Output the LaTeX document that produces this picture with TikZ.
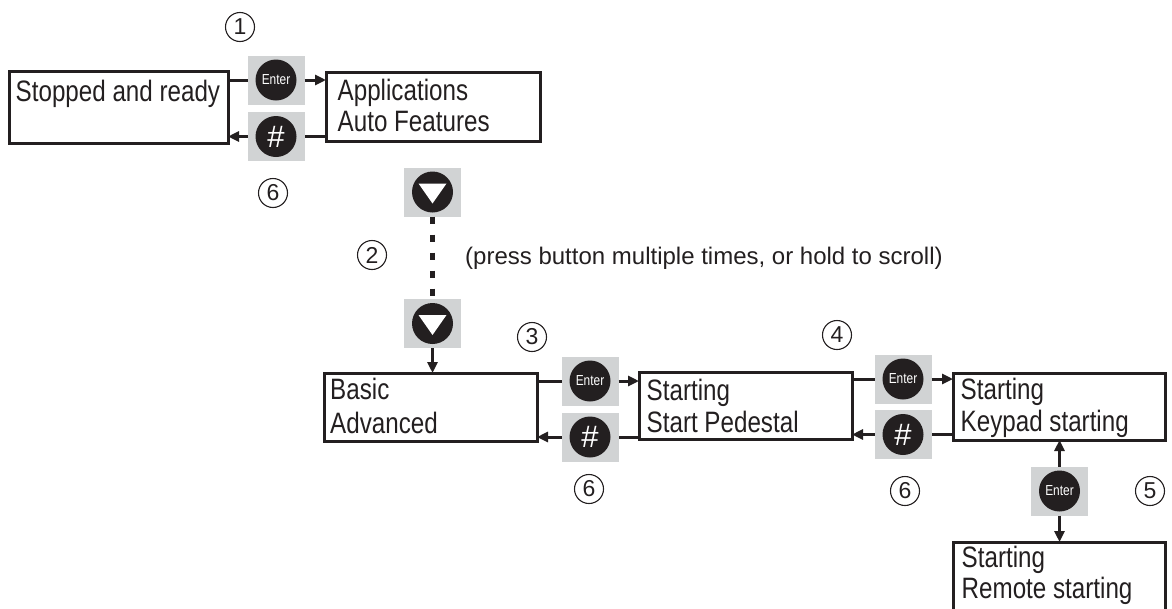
\documentclass[tikz,border=0pt]{standalone}
\usepackage{fontspec}
\setmainfont{Liberation Sans}
\newfontfamily\narrowfont{Liberation Sans}[FakeStretch=0.82]
\usetikzlibrary{arrows.meta}
\definecolor{btngray}{HTML}{D1D3D4}
\definecolor{ink}{HTML}{231F20}
\begin{document}
\begin{tikzpicture}[x=1pt,y=-1pt,
  screen/.style={draw=ink, line width=3pt, inner sep=0pt, outer sep=0pt, anchor=north west},
  btn/.style={fill=btngray, minimum width=57pt, minimum height=49pt, inner sep=0pt, outer sep=0pt},
  knob/.style={circle, fill=ink, minimum size=41pt, inner sep=0pt, text=white},
  entertxt/.style={knob, font=\narrowfont\fontsize{14.5}{14.5}\selectfont},
  hashtxt/.style={knob, font=\fontsize{31}{31}\selectfont},
  num/.style={circle, draw=ink, line width=1.1pt, minimum size=29pt, inner sep=0pt, text=ink, font=\fontsize{23}{23}\selectfont},
  lbl/.style={inner sep=0pt, anchor=base west, text=ink, font=\narrowfont\fontsize{29.5}{33}\selectfont},
  conn/.style={draw=ink, line width=3pt},
  arr/.style={conn, -{Triangle[length=11pt,width=10pt]}}
]
\useasboundingbox (0,0) rectangle (1172,608);

% screens
\node[screen, minimum width=219pt, minimum height=72pt] (B1) at (9,71) {};
\node[screen, minimum width=214pt, minimum height=69pt] (B2) at (326,72) {};
\node[screen, minimum width=213pt, minimum height=68pt] (B3) at (324,373) {};
\node[screen, minimum width=213pt, minimum height=67pt] (B4) at (639,372) {};
\node[screen, minimum width=212pt, minimum height=67pt] (B5) at (953,373) {};
\node[screen, minimum width=212pt, minimum height=72pt] (B6) at (953,542) {};

% screen texts
\node[lbl] (t1) at (15.5,101.7) {Stopped and ready};
\node[lbl] (t2a) at (337.5,100) {Applications};
\node[lbl] (t2b) at (337.5,131.7) {Auto Features};
\node[lbl] (t3a) at (330,399.5) {Basic};
\node[lbl] (t3b) at (330,433.5) {Advanced};
\node[lbl] (t4a) at (646.5,400) {Starting};
\node[lbl] (t4b) at (646.5,432.5) {Start Pedestal};
\node[lbl] (t5a) at (960.5,399) {Starting};
\node[lbl] (t5b) at (960.5,431.7) {Keypad starting};
\node[lbl] (t6a) at (961.5,567) {Starting};
\node[lbl] (t6b) at (961.5,598.5) {Remote starting};

% buttons
\node[btn] (E1) at (276,80) {};
\node[entertxt] (E1k) at (E1) {Enter};
\node[btn] (H1) at (276,136.5) {};
\node[hashtxt] (H1k) at (H1) {\#};

\node[btn] (D1) at (432.5,192) {};
\node[knob] (D1k) at (D1) {};
\node[btn] (D2) at (432.5,323.5) {};
\node[knob] (D2k) at (D2) {};
\fill[white] ([shift={(-14,-8.5)}]D1.center) -- ([shift={(14,-8.5)}]D1.center) -- ([shift={(0,11.5)}]D1.center) -- cycle;
\fill[white] ([shift={(-14,-8.5)}]D2.center) -- ([shift={(14,-8.5)}]D2.center) -- ([shift={(0,11.5)}]D2.center) -- cycle;

\node[btn] (E2) at (590,381) {};
\node[entertxt] (E2k) at (E2) {Enter};
\node[btn] (H2) at (590,437) {};
\node[hashtxt] (H2k) at (H2) {\#};

\node[btn] (E3) at (903,379) {};
\node[entertxt] (E3k) at (E3) {Enter};
\node[btn] (H3) at (903,434.5) {};
\node[hashtxt] (H3k) at (H3) {\#};

\node[btn] (E4) at (1059.5,491) {};
\node[entertxt] (E4k) at (E4) {Enter};

% step numbers
\node[num] (n1) at (240,27) {1};
\node[num] (n6a) at (273,193) {6};
\node[num] (n2) at (372,255) {2};
\node[num] (n3) at (532,337) {3};
\node[num] (n4) at (837,335) {4};
\node[num] (n6b) at (589,489) {6};
\node[num] (n6c) at (905,491) {6};
\node[num] (n5) at (1150,491) {5};

% note
\node[inner sep=0pt, anchor=base west, text=ink, font=\fontsize{24}{24}\selectfont] (note) at (465,264) {(press button multiple times, or hold to scroll)};

% connectors: top row
\draw[conn] (B1.east |- E1) -- (E1.west);
\draw[arr] (E1.east) -- (E1.east -| B2.west);
\draw[conn] (B2.west |- H1) -- (H1.east);
\draw[arr] (H1.west) -- (H1.west -| B1.east);

% scrolling
\draw[draw=ink, line width=4.5pt, dash pattern=on 7.5pt off 10.5pt] (D1.south) -- (D2.north);
\draw[arr] (D2.south) -- (D2.south |- B3.north);

% middle row
\draw[conn] (B3.east |- E2) -- (E2.west);
\draw[arr] (E2.east) -- (E2.east -| B4.west);
\draw[conn] (B4.west |- H2) -- (H2.east);
\draw[arr] (H2.west) -- (H2.west -| B3.east);
\draw[conn] (B4.east |- E3) -- (E3.west);
\draw[arr] (E3.east) -- (E3.east -| B5.west);
\draw[conn] (B5.west |- H3) -- (H3.east);
\draw[arr] (H3.west) -- (H3.west -| B4.east);

% vertical toggle
\draw[arr] (E4.north) -- (E4.north |- B5.south);
\draw[arr] (E4.south) -- (E4.south |- B6.north);
\end{tikzpicture}
\end{document}
